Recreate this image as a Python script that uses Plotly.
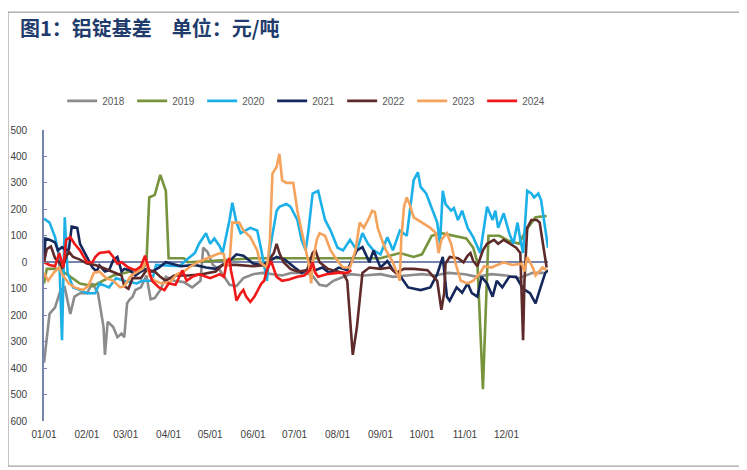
import pandas as pd
import plotly.graph_objects as go

# 铝锭基差 (元/吨), each year drawn on a common month/day axis
d2018 = ["01/01", "01/05", "01/09", "01/13", "01/16", "01/20", "01/23", "01/27", "02/01", "02/05",
         "02/09", "02/13", "02/14", "02/16", "02/20", "02/23", "02/26", "02/28", "03/02", "03/04",
         "03/06", "03/08", "03/12", "03/16", "03/19", "03/22", "03/26", "03/30", "04/05", "04/12",
         "04/18", "04/24", "04/26", "04/29", "05/03", "05/08", "05/15", "05/20", "05/25", "06/01",
         "06/08", "06/15", "06/22", "06/29", "07/06", "07/13", "07/19", "07/24", "07/29", "08/10",
         "08/20", "09/01", "09/10", "09/20", "10/01", "10/10", "10/20", "11/01", "11/10", "11/20",
         "12/01", "12/10", "12/20", "12/28"]
v2018 = [-380, -195, -170, -105, -95, -195, -130, -117, -117, -80,
         -117, -245, -350, -225, -245, -283, -270, -283, -155, -140,
         -130, -105, -95, -50, -140, -135, -105, -55, -70, -75,
         -95, -70, 55, 40, -10, -30, -85, -90, -60, -45,
         -40, -45, -50, -40, -40, -45, -85, -90, -70, -45,
         -50, -45, -55, -50, -45, -50, -40, -45, -55, -45,
         -50, -60, -40, -40]

d2019 = ["01/01", "01/03", "01/12", "01/20", "01/27", "02/05", "02/12", "02/20", "03/01", "03/08",
         "03/14", "03/16", "03/18", "03/22", "03/26", "03/30", "04/01", "04/12", "04/15", "05/01",
         "05/15", "06/01", "06/15", "07/01", "07/15", "08/01", "08/15", "09/01", "09/15", "09/25",
         "10/01", "10/08", "10/15", "10/25", "11/02", "11/07", "11/10", "11/14", "11/18", "11/26",
         "12/03", "12/10", "12/15", "12/22", "12/30"]
v2019 = [-80, -25, -25, -55, -80, -90, -70, -50, -40, -30,
         -20, 0, 245, 255, 330, 270, 15, 15, 0, 5,
         10, 15, 15, 15, 15, 15, 15, 15, 35, 20,
         30, 100, 110, 100, 90, 55, 0, -480, 100, 100,
         80, 70, 120, 170, 175]

d2020 = ["01/01", "01/05", "01/09", "01/12", "01/14", "01/16", "01/18", "01/22", "01/27", "02/01",
         "02/07", "02/10", "02/17", "02/22", "02/28", "03/09", "03/13", "03/20", "03/23", "04/09",
         "04/14", "04/20", "04/23", "04/28", "05/01", "05/04", "05/08", "05/10", "05/15", "05/17",
         "05/20", "05/23", "05/30", "06/04", "06/07", "06/11", "06/13", "06/18", "06/20", "06/25",
         "06/28", "07/03", "07/06", "07/09", "07/11", "07/14", "07/18", "07/21", "07/23", "07/27",
         "08/01", "08/05", "08/10", "08/15", "08/19", "08/23", "08/27", "09/01", "09/06", "09/10",
         "09/15", "09/20", "09/25", "09/28", "09/30", "10/04", "10/07", "10/12", "10/14", "10/16",
         "10/18", "10/22", "10/24", "10/27", "10/30", "11/03", "11/07", "11/12", "11/17", "11/21",
         "11/23", "11/25", "11/29", "12/03", "12/06", "12/09", "12/11", "12/13", "12/16", "12/19",
         "12/21", "12/24", "12/26", "12/28", "12/31"]
v2020 = [165, 150, 95, 20, -295, 170, -40, -95, -105, -117,
         -117, -80, -95, -60, -70, -80, -70, -70, -10, -15,
         10, 35, 70, 110, 70, 90, 60, 35, 160, 225,
         150, 110, 130, 120, 45, -70, 45, 195, 210, 220,
         210, 160, 85, 45, 120, 260, 270, 210, 160, 120,
         55, 45, 85, 45, 110, 70, 45, 30, 95, 45,
         120, 100, 310, 340, 285, 260, 220, 150, 70, 270,
         220, 195, 205, 160, 195, 130, 95, 35, 210, 160,
         195, 130, 185, 110, 70, 150, 85, 35, 270, 260,
         245, 260, 235, 160, 55]

d2021 = ["01/01", "01/02", "01/05", "01/09", "01/11", "01/14", "01/17", "01/19", "01/21", "01/25",
         "01/27", "01/30", "02/02", "02/05", "02/08", "02/10", "02/14", "02/17", "02/20", "02/23",
         "02/26", "02/28", "03/04", "03/08", "03/12", "03/16", "03/20", "03/25", "03/30", "04/10",
         "04/20", "04/28", "05/05", "05/15", "05/20", "05/25", "06/01", "06/08", "06/18", "06/24",
         "07/01", "07/06", "07/11", "07/16", "07/21", "07/26", "08/02", "08/08", "08/15", "08/19",
         "08/24", "08/27", "09/01", "09/06", "09/10", "09/15", "09/21", "09/30", "10/07", "10/12",
         "10/16", "10/19", "10/21", "10/26", "10/30", "11/03", "11/06", "11/10", "11/13", "11/17",
         "11/21", "11/24", "11/28", "12/03", "12/08", "12/13", "12/18", "12/22", "12/25", "12/29",
         "12/31"]
v2021 = [0, 90, 85, 75, 45, 57, 45, 50, 135, 130,
         70, 40, 8, -20, -35, -12, -35, -30, 8, 20,
         -35, -25, -30, -50, -35, -25, -35, -20, 0, -15,
         -10, -20, -25, 5, 30, 25, -5, -10, 20, 10,
         -20, -40, -25, -30, -20, -40, -20, -30, 45, 57,
         0, 45, -20, 5, -30, -50, -95, -105, -95, -45,
         20, -130, -145, -95, -115, -80, -117, -130, -55, -80,
         -130, -70, -95, -55, -55, -100, -117, -155, -105, -40,
         -30]

d2022 = ["01/01", "01/03", "01/06", "01/09", "01/12", "01/14", "01/17", "01/19", "01/22", "01/27",
         "02/01", "02/07", "02/12", "02/17", "02/22", "02/26", "02/28", "03/03", "03/06", "03/12",
         "03/16", "03/22", "03/26", "03/30", "04/05", "04/15", "04/25", "05/05", "05/10", "05/20",
         "06/01", "06/10", "06/16", "06/18", "06/20", "06/23", "06/28", "07/03", "07/10", "07/14",
         "07/16", "07/19", "07/25", "08/01", "08/05", "08/08", "08/10", "08/12", "08/15", "08/17",
         "08/19", "08/24", "09/01", "09/08", "09/12", "09/18", "09/25", "10/05", "10/12", "10/15",
         "10/17", "10/18", "10/21", "10/27", "10/31", "11/03", "11/05", "11/07", "11/10", "11/14",
         "11/17", "11/22", "11/25", "11/29", "12/04", "12/08", "12/11", "12/13", "12/14", "12/16",
         "12/19", "12/23", "12/25", "12/28", "12/30"]
v2022 = [0, 50, 60, 15, 0, -25, 20, 40, 20, 10,
         -5, -10, -20, -30, -40, -50, -90, -100, -60, -60,
         -30, -35, -55, -70, -50, -50, -45, -35, -10, -10,
         -15, -10, 35, 70, 35, 0, -25, -35, -30, 35,
         45, 0, -25, -35, -40, -70, -195, -350, -245, -145,
         -40, -20, -25, -20, -40, -25, -25, -30, -70, -180,
         -117, -5, 20, 15, 0, 25, 35, 5, -15, 45,
         70, 85, 70, 85, 70, 55, 35, -295, -70, 130,
         160, 160, 150, 45, -20]

d2023 = ["01/01", "01/04", "01/08", "01/12", "01/14", "01/19", "01/23", "01/29", "02/02", "02/06",
         "02/10", "02/15", "02/20", "02/25", "02/28", "03/05", "03/08", "03/13", "03/16", "03/18",
         "03/22", "03/27", "04/02", "04/07", "04/12", "04/17", "04/24", "05/01", "05/08", "05/11",
         "05/12", "05/15", "05/17", "05/22", "05/25", "05/30", "06/04", "06/06", "06/11", "06/13",
         "06/15", "06/18", "06/20", "06/22", "06/25", "06/30", "07/03", "07/06", "07/09", "07/11",
         "07/13", "07/14", "07/17", "07/19", "07/23", "07/27", "08/01", "08/05", "08/10", "08/14",
         "08/17", "08/20", "08/24", "08/26", "08/28", "08/30", "09/02", "09/05", "09/10", "09/13",
         "09/15", "09/16", "09/18", "09/20", "09/22", "09/25", "09/28", "10/03", "10/07", "10/11",
         "10/13", "10/15", "10/19", "10/22", "10/25", "10/29", "11/03", "11/07", "11/12", "11/15",
         "11/20", "11/29", "12/05", "12/12", "12/14", "12/16", "12/20", "12/22", "12/27", "12/30"]
v2023 = [-40, -70, -40, -20, -45, -80, -95, -105, -90, -40,
         -35, -60, -70, -95, -90, -50, -40, -25, 10, -50,
         -70, -80, -75, -45, -35, -15, 5, 20, 35, 30,
         -20, 0, 150, 150, 120, 95, 45, 0, -20, 70,
         335, 360, 410, 310, 300, 300, 195, 120, 45, 0,
         -80, 0, 85, 110, 100, 45, 5, -20, -20, 45,
         150, 130, 170, 195, 190, 130, 85, 45, 0, -40,
         -70, 85, 210, 245, 220, 170, 160, 145, 130, 110,
         35, 85, 110, 70, 0, -70, -80, -70, -40, -15,
         -20, 0, -10, -5, -35, 20, -20, -50, -20, -30]

d2024 = ["01/01", "01/05", "01/09", "01/12", "01/15", "01/17", "01/20", "01/23", "01/27", "02/01",
         "02/05", "02/07", "02/10", "02/17", "02/20", "02/23", "02/26", "03/03", "03/08", "03/12",
         "03/15", "03/17", "03/20", "03/25", "03/29", "04/01", "04/06", "04/11", "04/14", "04/18",
         "04/23", "05/01", "05/08", "05/11", "05/13", "05/15", "05/16", "05/18", "05/20", "05/23",
         "05/25", "05/27", "05/30", "06/02", "06/04", "06/07", "06/09", "06/11", "06/14", "06/18",
         "06/22", "06/27", "07/03", "07/08", "07/12", "07/14", "07/16", "07/18", "07/24", "08/01",
         "08/08", "08/11"]
v2024 = [0, -10, -15, 35, -20, 85, 95, 70, 45, 0,
         0, 20, 35, 40, 20, -5, 0, -20, -30, -15,
         25, -10, -70, -95, -105, -80, -85, -30, -70, -55,
         -45, -60, -45, -55, 0, 15, -30, -80, -145, -117,
         -105, -130, -150, -130, -110, -80, -70, -30, 5, -55,
         -70, -65, -55, -50, -30, 0, -40, -55, -45, -40,
         -40, -30]

years = ["2018", "2019", "2020", "2021", "2022", "2023", "2024"]
dates = [d2018, d2019, d2020, d2021, d2022, d2023, d2024]
values = [v2018, v2019, v2020, v2021, v2022, v2023, v2024]
colors = ["#8C8C8C", "#77933C", "#1CB0E8", "#14285C", "#5E2A2A", "#F5A35C", "#F01818"]

month_ticks = ["01/01", "02/01", "03/01", "04/01", "05/01", "06/01",
               "07/01", "08/01", "09/01", "10/01", "11/01", "12/01"]
y_ticks = list(range(-600, 501, 100))

BASE = "2021/"
FONT = "Liberation Sans Narrow, Liberation Sans, Arial, sans-serif"
AXIS = "#7585AE"

fig = go.Figure()
for name, d, v, c in zip(years, dates, values, colors):
    assert len(d) == len(v), name
    fig.add_trace(go.Scatter(
        x=pd.to_datetime([BASE + s for s in d]), y=v, name=name, mode="lines",
        line=dict(color=c, width=2.6), hoverinfo="skip"))

# page body keeps its default 8px margin, so the figure is sized and offset for it
fig.update_layout(
    width=739, height=462,
    margin=dict(l=36, r=199, t=122, b=49, autoexpand=False),
    paper_bgcolor="white", plot_bgcolor="white",
    font=dict(family=FONT, size=10, color="#404040"),
    showlegend=True,
    legend=dict(orientation="h", x=0.036, xanchor="left", y=1.10, yanchor="middle",
                font=dict(size=10, color="#595959"), entrywidth=25, entrywidthmode="pixels",
                bgcolor="rgba(0,0,0,0)", borderwidth=0, itemwidth=30),
    xaxis=dict(type="date", range=[BASE + "01/01", BASE + "12/31"],
               tickvals=pd.to_datetime([BASE + t for t in month_ticks]), ticktext=month_ticks,
               showgrid=False, zeroline=False, showline=False, ticks="",
               ticklabelstandoff=6, tickfont=dict(size=10, color="#404040")),
    yaxis=dict(range=[-600, 500], tickvals=y_ticks, ticktext=[str(abs(t)) for t in y_ticks],
               showgrid=False, zeroline=True, zerolinecolor=AXIS, zerolinewidth=1.6,
               showline=True, linecolor=AXIS, linewidth=1.6, ticks="inside", ticklen=3,
               tickcolor=AXIS, ticklabelstandoff=13, tickfont=dict(size=10, color="#404040")),
    shapes=[dict(type="rect", xref="paper", yref="paper",
                 x0=-0.0714, x1=1.383, y0=-0.155, y1=1.405,
                 line=dict(color="#8A8A8A", width=1), fillcolor="rgba(0,0,0,0)", layer="below")],
    annotations=[dict(text="<b>图1：铝锭基差　单位：元/吨</b>", xref="paper", yref="paper",
                      x=-0.052, y=1.352, xanchor="left", yanchor="middle", showarrow=False,
                      font=dict(family="Noto Sans CJK SC", size=20, color="#1F3C6C"))],
)

fig.write_html("out.html")
